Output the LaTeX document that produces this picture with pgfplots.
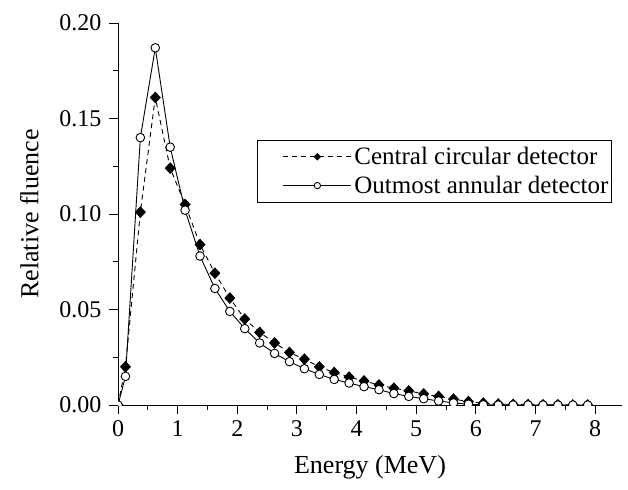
\documentclass[border=0pt]{standalone}
\usepackage{fontspec}
\setmainfont{Liberation Serif}
\usepackage{pgfplots}
\pgfplotsset{compat=1.18}

\pgfplotstableread{
E       f
0       0
0.125   0.020
0.375   0.101
0.625   0.161
0.875   0.124
1.125   0.105
1.375   0.084
1.625   0.069
1.875   0.056
2.125   0.045
2.375   0.038
2.625   0.0325
2.875   0.0275
3.125   0.024
3.375   0.020
3.625   0.017
3.875   0.0146
4.125   0.0126
4.375   0.0105
4.625   0.0088
4.875   0.0074
5.125   0.0058
5.375   0.0045
5.625   0.0031
5.875   0.0018
6.125   0.0010
6.375   0.0005
6.625   0.0003
6.875   0.0002
7.125   0.0001
7.375   0.0001
7.625   0.0
7.875   0.0
}\central

\pgfplotstableread{
E       f
0       0
0.125   0.015
0.375   0.140
0.625   0.187
0.875   0.135
1.125   0.102
1.375   0.078
1.625   0.061
1.875   0.049
2.125   0.040
2.375   0.0325
2.625   0.027
2.875   0.0227
3.125   0.019
3.375   0.016
3.625   0.0134
3.875   0.0115
4.125   0.0096
4.375   0.0080
4.625   0.0060
4.875   0.0045
5.125   0.0033
5.375   0.0021
5.625   0.0011
5.875   0.0004
6.125   0.0001
6.375   0.0
6.625   0.0
6.875   0.0
7.125   0.0
7.375   0.0
7.625   0.0
7.875   0.0
}\outmost

\begin{document}
\begin{tikzpicture}
\begin{axis}[
    name=ax,
    scale only axis,
    width=504bp, height=382bp,
    xmin=0, xmax=8.45,
    ymin=0, ymax=0.2,
    axis lines*=left,
    axis line style={line width=0.9bp},
    xtick={0,1,2,3,4,5,6,7,8},
    ytick={0,0.05,0.10,0.15,0.20},
    minor x tick num=1,
    minor y tick num=1,
    tick align=outside,
    major tick length=9bp,
    minor tick length=5bp,
    every tick/.style={black, line width=0.9bp},
    yticklabel style={xshift=-4bp, /pgf/number format/.cd, fixed, fixed zerofill, precision=2},
    xticklabel style={yshift=-3bp},
    /pgf/number format/assume math mode=true,
    ticklabel style={font=\fontsize{24bp}{28bp}\selectfont},
    label style={font=\fontsize{26bp}{30bp}\selectfont},
    xlabel={Energy (MeV)},
    ylabel={Relative fluence},
    xlabel style={yshift=-12bp},
    ylabel style={yshift=14bp},
    clip marker paths=true,
    legend style={
        at={(0.98,0.694)}, anchor=north east,
        draw=black, line width=0.9bp,
        font=\fontsize{25bp}{29bp}\selectfont,
        inner xsep=2bp, inner ysep=6bp,
        row sep=8bp,
        nodes={inner sep=1bp},
    },
    legend cell align=left,
    legend image code/.code={
        \path[draw=none, fill=none] (-24bp,0bp) rectangle (70bp,0bp);
        \draw[mark repeat=2, mark phase=2, #1, mark size=3.2bp]
            plot coordinates {(0bp,0bp) (34bp,0bp) (68bp,0bp)};
    },
]
\addplot[black, line width=0.9bp, dash pattern=on 5bp off 4bp,
    mark=diamond*, mark size=5.2bp,
    mark options={solid, fill=black, xscale=1.25}]
    table[x=E, y=f] {\central};
\addlegendentry{Central circular detector}
\addplot[black, line width=0.9bp,
    mark=*, mark size=4.3bp,
    mark options={solid, fill=white, line width=0.9bp}]
    table[x=E, y=f] {\outmost};
\addlegendentry{Outmost annular detector}
\end{axis}
\pgfresetboundingbox
\path ([shift={(-118bp,-84bp)}]ax.south west) rectangle ([shift={(6bp,23bp)}]ax.north east);
\end{tikzpicture}
\end{document}
